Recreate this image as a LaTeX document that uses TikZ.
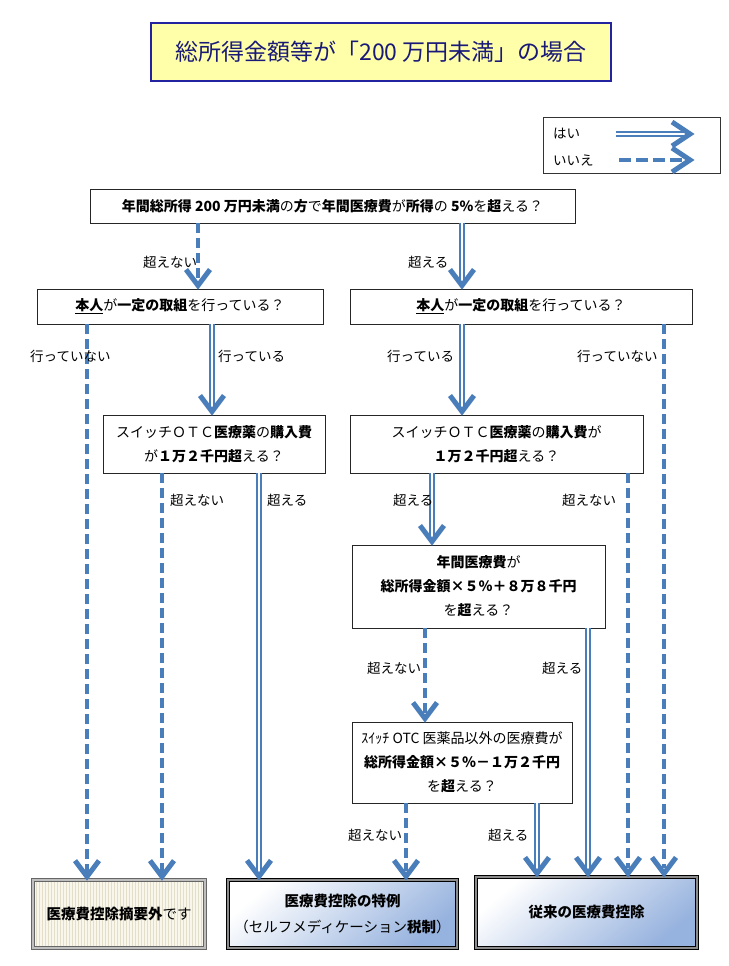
\documentclass[tikz,border=0pt]{standalone}
\usepackage{fontspec}
\setmainfont{Noto Sans CJK JP}
\usetikzlibrary{patterns.meta}
\definecolor{ablue}{RGB}{74,126,187}
\definecolor{ttlfill}{RGB}{255,255,170}
\definecolor{ttlline}{RGB}{35,35,160}
\definecolor{ttltext}{RGB}{25,25,120}
\definecolor{shblue}{RGB}{150,178,222}
\definecolor{cream}{RGB}{249,247,236}
\definecolor{stripe}{RGB}{226,222,202}
\newcommand\YesArr[3]{%
  \draw[yesline, shorten >=5pt] (#1.south -| #3) -- (#2.north -| #3);
  \draw[headst] (#2.north -| #3) ++(-12,-19) -- ++(12,16) -- ++(12,-16);}
\newcommand\NoArr[3]{%
  \draw[noline, shorten >=8pt] (#1.south -| #3) -- (#2.north -| #3);
  \draw[headst] (#2.north -| #3) ++(-12,-19) -- ++(12,16) -- ++(12,-16);}
\begin{document}
\begin{tikzpicture}[x=1pt,y=-1pt,
  box/.style={draw=black!85, line width=0.9pt, fill=white, inner sep=0pt, align=center, font=\fontsize{14}{24}\selectfont},
  lbl/.style={anchor=west, inner sep=0pt, font=\fontsize{13.5}{16}\selectfont},
  yesline/.style={draw=ablue, line width=1.7pt, double=white, double distance=2.6pt},
  noline/.style={draw=ablue, line width=4.8pt, dash pattern=on 10pt off 5pt},
  headst/.style={draw=ablue, line width=5pt, line cap=butt, line join=miter},
  endbox/.style={inner sep=0pt, align=center, font=\fontsize{14.5}{26}\selectfont},
  shadebox/.style={endbox, draw=black, line width=1.2pt, double=black!45, double distance=2.2pt,
     top color=white, bottom color=shblue, shading angle=40},
]
\fill[white] (0,0) rectangle (728,966);
\useasboundingbox (0,0) rectangle (728,966);

% title
\node[draw=ttlline, line width=2.5pt, fill=ttlfill, minimum width=460pt, minimum height=58pt,
  inner sep=0pt, text=ttltext, font=\fontsize{23}{27}\selectfont] (title) at (381,52)
  {総所得金額等が「200 万円未満」の場合};

% legend
\node[draw=black!80, line width=0.9pt, minimum width=177pt, minimum height=56pt, inner sep=0pt] (legend) at (631.5,145) {};
\node[lbl] (hai) at (553,134) {はい};
\node[lbl] (iie) at (553,160) {いいえ};
\coordinate (lg1) at (616,134); \coordinate (lg2) at (692,134);
\coordinate (lg3) at (619,160); \coordinate (lg4) at (692,160);
\draw[yesline, shorten >=5pt] (lg1) -- (lg2);
\draw[headst] (lg2) ++(-20,-12) -- ++(18,12) -- ++(-18,12);
\draw[noline, dash pattern=on 12pt off 5pt, shorten >=7pt] (lg3) -- (lg4);
\draw[headst] (lg4) ++(-20,-12) -- ++(18,12) -- ++(-18,12);

% question boxes
\node[box, minimum width=485pt, minimum height=34pt] (top) at (332.5,206)
  {{\bfseries 年間総所得 200 万円未満}の{\bfseries 方}で{\bfseries 年間医療費}が{\bfseries 所得}の {\bfseries 5\%}を{\bfseries 超}える？};
\node[box, minimum width=286pt, minimum height=35pt] (l1) at (180,306.5)
  {\underline{\bfseries 本人}が{\bfseries 一定の取組}を行っている？};
\node[box, minimum width=342pt, minimum height=35pt] (r1) at (521,306.5)
  {\underline{\bfseries 本人}が{\bfseries 一定の取組}を行っている？};
\node[box, minimum width=222pt, minimum height=58pt] (l2) at (214,444)
  {スイッチＯＴＣ{\bfseries 医療薬}の{\bfseries 購入費}\\が{\bfseries １万２千円超}える？};
\node[box, minimum width=293pt, minimum height=58pt] (r2) at (496.5,444)
  {スイッチＯＴＣ{\bfseries 医療薬}の{\bfseries 購入費}が\\{\bfseries １万２千円超}える？};
\node[box, minimum width=253pt, minimum height=83pt] (r3) at (478.5,586.5)
  {{\bfseries 年間医療費}が\\{\bfseries 総所得金額×５％＋８万８千円}\\を{\bfseries 超}える？};
\node[box, minimum width=220pt, minimum height=81pt] (r4) at (462,762.5)
  {ｽｲｯﾁ OTC 医薬品以外の医療費が\\{\bfseries 総所得金額×５％－１万２千円}\\を{\bfseries 超}える？};

% result boxes
\node[endbox, draw=black!60, line width=1.1pt, double=black!25, double distance=1.4pt,
  preaction={fill=cream}, pattern={Lines[angle=90, distance=3pt, line width=0.7pt]}, pattern color=stripe,
  minimum width=172pt, minimum height=68pt] (b1) at (119,914) {};
\node[endbox] at (b1.center) {{\bfseries 医療費控除摘要外}です};
\node[shadebox, minimum width=229pt, minimum height=68pt] (b2) at (342.5,914)
  {{\bfseries 医療費控除の特例}\\（セルフメディケーション{\bfseries 税制}）};
\node[shadebox, minimum width=221pt, minimum height=71pt] (b3) at (586.5,912.5)
  {{\bfseries 従来の医療費控除}};

% x positions of connectors
\coordinate (xa) at (198,0);  \coordinate (xb) at (462,0);
\coordinate (xc) at (87,0);   \coordinate (xd) at (212,0);
\coordinate (xe) at (462,0);  \coordinate (xf) at (664,0);
\coordinate (xg) at (162,0);  \coordinate (xh) at (259,0);
\coordinate (xi) at (432,0);  \coordinate (xj) at (628,0);
\coordinate (xk) at (425,0);  \coordinate (xl) at (588,0);
\coordinate (xm) at (406,0);  \coordinate (xn) at (537,0);

\NoArr{top}{l1}{xa}
\YesArr{top}{r1}{xb}
\NoArr{l1}{b1}{xc}
\YesArr{l1}{l2}{xd}
\YesArr{r1}{r2}{xe}
\NoArr{r1}{b3}{xf}
\NoArr{l2}{b1}{xg}
\YesArr{l2}{b2}{xh}
\YesArr{r2}{r3}{xi}
\NoArr{r2}{b3}{xj}
\NoArr{r3}{r4}{xk}
\YesArr{r3}{b3}{xl}
\NoArr{r4}{b2}{xm}
\YesArr{r4}{b3}{xn}

% labels
\node[lbl] at (143,262) {超えない};
\node[lbl] at (408,262) {超える};
\node[lbl] at (30,356) {行っていない};
\node[lbl] at (218,356) {行っている};
\node[lbl] at (387,356) {行っている};
\node[lbl] at (577,356) {行っていない};
\node[lbl] at (170,500) {超えない};
\node[lbl] at (267,500) {超える};
\node[lbl] at (393,500) {超える};
\node[lbl] at (562,500) {超えない};
\node[lbl] at (367,668) {超えない};
\node[lbl] at (542,668) {超える};
\node[lbl] at (348,835) {超えない};
\node[lbl] at (488,835) {超える};
\end{tikzpicture}
\end{document}
